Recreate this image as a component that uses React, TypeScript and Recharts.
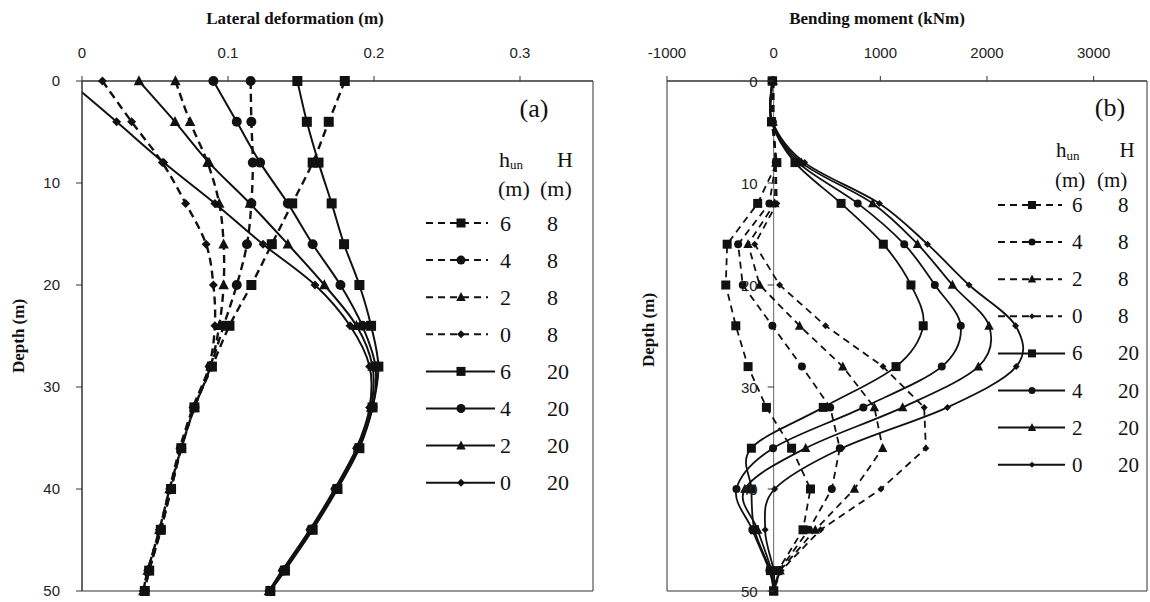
import React from 'react';
import { LineChart, Line, XAxis, YAxis, ReferenceLine, ReferenceArea, Legend } from 'recharts';

// depth of each reading (m), shared by both panels
const DEPTHS = [0, 4, 8, 12, 16, 20, 24, 28, 32, 36, 40, 44, 48, 50];
const DEPTH_TICKS = [0, 10, 20, 30, 40, 50];

// (a) lateral deformation (m)
const DEF_TICKS = [0, 0.1, 0.2, 0.3];
const DEF_6_8 = [0.18, 0.169, 0.158, 0.144, 0.13, 0.116, 0.101, 0.089, 0.077, 0.068, 0.061, 0.054, 0.046, 0.043];
const DEF_4_8 = [0.1155, 0.116, 0.117, 0.116, 0.113, 0.106, 0.097, 0.088, 0.077, 0.068, 0.061, 0.054, 0.046, 0.043];
const DEF_2_8 = [0.064, 0.074, 0.086, 0.094, 0.097, 0.097, 0.094, 0.088, 0.077, 0.068, 0.06, 0.053, 0.045, 0.042];
const DEF_0_8 = [0.014, 0.034, 0.055, 0.071, 0.085, 0.09, 0.091, 0.087, 0.076, 0.067, 0.06, 0.053, 0.045, 0.042];
const DEF_6_20 = [0.1475, 0.154, 0.162, 0.171, 0.1795, 0.19, 0.198, 0.203, 0.199, 0.19, 0.175, 0.158, 0.139, 0.129];
const DEF_4_20 = [0.09, 0.106, 0.122, 0.141, 0.158, 0.177, 0.192, 0.201, 0.199, 0.189, 0.174, 0.157, 0.138, 0.129];
const DEF_2_20 = [0.039, 0.0637, 0.087, 0.115, 0.141, 0.166, 0.188, 0.199, 0.198, 0.189, 0.174, 0.157, 0.138, 0.128];
const DEF_0_20 = [-0.009, 0.0237, 0.056, 0.091, 0.124, 0.1596, 0.1836, 0.197, 0.197, 0.188, 0.173, 0.156, 0.137, 0.128];

// (b) bending moment (kNm)
const BM_TICKS = [-1000, 0, 1000, 2000, 3000];
const BM_6_8 = [-10, -20, 30, -150, -436, -449, -355, -240, -68, 168, 345, 275, 40, 0];
const BM_4_8 = [-5, -10, 20, -40, -333, -290, -12, 265, 530, 620, 545, 330, 50, 0];
const BM_2_8 = [-5, -5, 20, 10, -240, -131, 243, 648, 944, 1022, 757, 390, 60, 0];
const BM_0_8 = [0, 0, 20, 30, -178, 56, 486, 1025, 1411, 1427, 1006, 440, 70, 0];
const BM_6_20 = [-15, -20, 200, 632, 1028, 1287, 1402, 1147, 465, -209, -209, -180, -30, 0];
const BM_4_20 = [-15, -20, 230, 788, 1224, 1511, 1754, 1576, 841, -6, -349, -200, -40, 0];
const BM_2_20 = [-10, -15, 260, 928, 1349, 1676, 2019, 1919, 1209, 300, -270, -150, -20, 0];
const BM_0_20 = [-10, -10, 290, 991, 1442, 1832, 2268, 2274, 1629, 640, 9, -80, 0, 0];

type Shape = 'square' | 'circle' | 'triangle' | 'diamond';

const SERIES: { hun: number; H: number; shape: Shape; dashed: boolean; def: number[]; bm: number[] }[] = [
  { hun: 6, H: 8, shape: 'square', dashed: true, def: DEF_6_8, bm: BM_6_8 },
  { hun: 4, H: 8, shape: 'circle', dashed: true, def: DEF_4_8, bm: BM_4_8 },
  { hun: 2, H: 8, shape: 'triangle', dashed: true, def: DEF_2_8, bm: BM_2_8 },
  { hun: 0, H: 8, shape: 'diamond', dashed: true, def: DEF_0_8, bm: BM_0_8 },
  { hun: 6, H: 20, shape: 'square', dashed: false, def: DEF_6_20, bm: BM_6_20 },
  { hun: 4, H: 20, shape: 'circle', dashed: false, def: DEF_4_20, bm: BM_4_20 },
  { hun: 2, H: 20, shape: 'triangle', dashed: false, def: DEF_2_20, bm: BM_2_20 },
  { hun: 0, H: 20, shape: 'diamond', dashed: false, def: DEF_0_20, bm: BM_0_20 },
];

const INK = '#111';
const AXIS = '#333';
const SANS = 'Liberation Sans, Arial, sans-serif';
const SERIF = 'Liberation Serif, Times New Roman, serif';
const TICK_STYLE = { fontFamily: SANS, fontSize: 15, fill: '#222' };

const toRows = (values: number[]) => DEPTHS.map((d, i) => ({ d, v: values[i] }));

// Excel-style smoothed line: cubic bezier with 1/6 tangents (Catmull-Rom)
const excelSmooth = (context: any) => {
  let pts: number[][] = [];
  return {
    areaStart() {},
    areaEnd() {},
    lineStart() {
      pts = [];
    },
    point(x: number, y: number) {
      pts.push([+x, +y]);
    },
    lineEnd() {
      const n = pts.length;
      if (n === 0) return;
      context.moveTo(pts[0][0], pts[0][1]);
      for (let i = 0; i < n - 1; i++) {
        const p0 = pts[Math.max(i - 1, 0)];
        const p1 = pts[i];
        const p2 = pts[i + 1];
        const p3 = pts[Math.min(i + 2, n - 1)];
        context.bezierCurveTo(
          p1[0] + (p2[0] - p0[0]) / 6,
          p1[1] + (p2[1] - p0[1]) / 6,
          p2[0] - (p3[0] - p1[0]) / 6,
          p2[1] - (p3[1] - p1[1]) / 6,
          p2[0],
          p2[1],
        );
      }
    },
  };
};

function Marker({ shape, cx, cy, size }: { shape: Shape; cx: number; cy: number; size: number }) {
  const r = size / 2;
  if (shape === 'square') return <rect x={cx - r} y={cy - r} width={size} height={size} fill={INK} />;
  if (shape === 'circle') return <circle cx={cx} cy={cy} r={r} fill={INK} />;
  if (shape === 'triangle')
    return <polygon points={`${cx},${cy - r * 1.15} ${cx + r * 1.05},${cy + r * 0.85} ${cx - r * 1.05},${cy + r * 0.85}`} fill={INK} />;
  return <polygon points={`${cx},${cy - r} ${cx + r},${cy} ${cx},${cy + r} ${cx - r},${cy}`} fill={INK} />;
}

const SIZES_A: Record<Shape, number> = { square: 10, circle: 10, triangle: 10, diamond: 9 };
const SIZES_B: Record<Shape, number> = { square: 9, circle: 8, triangle: 9, diamond: 7 };

const makeDot = (shape: Shape, size: number, xMin: number) => (p: any) => {
  const key = `dot-${p.index}`;
  if (p.value == null || p.value < xMin || p.cx == null) return <g key={key} />;
  return <Marker key={key} shape={shape} cx={p.cx} cy={p.cy} size={size} />;
};

interface LegendCfg {
  hunX: number;
  hHeadX: number;
  headY: number;
  unit1X: number;
  unit2X: number;
  unitY: number;
  rowY0: number;
  rowStep: number;
  lineX1: number;
  dashX2: number;
  solidX2: number;
  markX: number;
  numX: number;
  HX: number;
  dash: string;
  fontSize: number;
  sizes: Record<Shape, number>;
}

function LegendTable({ cfg, width }: { cfg: LegendCfg; width: number }) {
  const txt = { fontFamily: SERIF, fontSize: cfg.fontSize, fill: INK };
  return (
    <svg width={width} height={602} style={{ position: 'absolute', left: 0, top: 0, overflow: 'visible' }}>
      <text x={cfg.hunX} y={cfg.headY} dominantBaseline="central" {...txt}>
        h<tspan fontSize={13} dy={5}>un</tspan>
      </text>
      <text x={cfg.hHeadX} y={cfg.headY} textAnchor="middle" dominantBaseline="central" {...txt}>
        H
      </text>
      <text x={cfg.unit1X} y={cfg.unitY} dominantBaseline="central" {...txt}>
        (m)
      </text>
      <text x={cfg.unit2X} y={cfg.unitY} dominantBaseline="central" {...txt}>
        (m)
      </text>
      {SERIES.map((s, i) => {
        const y = cfg.rowY0 + i * cfg.rowStep;
        return (
          <g key={`leg-${i}`}>
            <line
              x1={cfg.lineX1}
              x2={s.dashed ? cfg.dashX2 : cfg.solidX2}
              y1={y}
              y2={y}
              stroke={INK}
              strokeWidth={2}
              strokeDasharray={s.dashed ? cfg.dash : undefined}
            />
            <Marker shape={s.shape} cx={cfg.markX} cy={y} size={cfg.sizes[s.shape] - 1} />
            <text x={cfg.numX} y={y} dominantBaseline="central" {...txt}>
              {s.hun}
            </text>
            <text x={cfg.HX} y={y} dominantBaseline="central" {...txt}>
              {s.H}
            </text>
          </g>
        );
      })}
    </svg>
  );
}

const LEGEND_A: LegendCfg = {
  hunX: 499, hHeadX: 565, headY: 159, unit1X: 498, unit2X: 540, unitY: 188,
  rowY0: 223, rowStep: 37.1, lineX1: 426, dashX2: 488, solidX2: 495, markX: 461,
  numX: 500, HX: 547, dash: '7 5', fontSize: 22, sizes: SIZES_A,
};

const LEGEND_B: LegendCfg = {
  hunX: 456, hHeadX: 527, headY: 150, unit1X: 455, unit2X: 497, unitY: 180,
  rowY0: 205, rowStep: 37.1, lineX1: 398, dashX2: 462, solidX2: 465, markX: 432,
  numX: 472, HX: 518, dash: '7 5', fontSize: 21, sizes: SIZES_B,
};

const titleStyle = { fontFamily: SERIF, fontSize: 17, fontWeight: 700, fill: INK };

function Overlay({ width, children }: { width: number; children: React.ReactNode }) {
  return (
    <svg width={width} height={602} style={{ position: 'absolute', left: 0, top: 0, pointerEvents: 'none' }}>
      {children}
    </svg>
  );
}

// ---------- (a) lateral deformation ----------
const A_W = 600;
const A_MIN = 0;
const A_MAX = 0.35;

function DeformationPanel() {
  return (
    <div style={{ position: 'absolute', left: 0, top: 0, width: A_W, height: 602 }}>
      <LineChart width={A_W} height={602} layout="vertical" margin={{ top: 51, right: 7, bottom: 11, left: 42 }}>
        <ReferenceArea x1={A_MIN} x2={A_MAX} y1={0} y2={50} fill="none" stroke={AXIS} strokeWidth={1} ifOverflow="visible" />
        <XAxis
          type="number"
          orientation="top"
          domain={[A_MIN, A_MAX]}
          allowDataOverflow
          ticks={DEF_TICKS}
          interval={0}
          height={30}
          tickSize={5}
          tickMargin={18}
          tick={TICK_STYLE}
          stroke={AXIS}
          tickFormatter={(v: number) => String(v)}
        />
        <YAxis
          type="number"
          dataKey="d"
          domain={[0, 50]}
          ticks={DEPTH_TICKS}
          interval={0}
          width={40}
          tickSize={6}
          tickMargin={16}
          tick={TICK_STYLE}
          stroke={AXIS}
        />
        {SERIES.map((s, i) => (
          <Line
            key={`a-${i}`}
            data={toRows(s.def)}
            dataKey="v"
            type={excelSmooth as any}
            stroke={INK}
            strokeWidth={s.dashed ? 2.4 : 2}
            strokeDasharray={s.dashed ? '8 5' : undefined}
            dot={makeDot(s.shape, SIZES_A[s.shape], A_MIN)}
            activeDot={false}
            isAnimationActive={false}
          />
        ))}
        <Legend
          layout="horizontal"
          verticalAlign="middle"
          align="center"
          wrapperStyle={{ left: 0, top: 0, width: A_W, height: 602, pointerEvents: 'none' }}
          content={() => <LegendTable cfg={LEGEND_A} width={A_W} />}
        />
      </LineChart>
      <Overlay width={A_W}>
        <text x={295} y={18} textAnchor="middle" dominantBaseline="central" {...titleStyle}>
          Lateral deformation (m)
        </text>
        <text x={18} y={336} transform="rotate(-90 18 336)" textAnchor="middle" dominantBaseline="central" {...titleStyle}>
          Depth (m)
        </text>
        <text x={534} y={108} textAnchor="middle" dominantBaseline="central" fontFamily={SERIF} fontSize={26} fill={INK}>
          (a)
        </text>
      </Overlay>
    </div>
  );
}

// ---------- (b) bending moment ----------
const B_W = 550;
const B_MIN = -1000;
const B_MAX = 3500;
const B_AXIS_W = 1;
const B_LEFT = 66;
const B_RIGHT = 3;
const B_PLOT_X = B_LEFT + B_AXIS_W;
const B_PLOT_W = B_W - B_PLOT_X - B_RIGHT;
const B_ZERO_X = B_PLOT_X + (B_PLOT_W * (0 - B_MIN)) / (B_MAX - B_MIN);

// depth ticks sit on the x = 0 line, not on the frame
function ZeroDepthTick(props: any) {
  const { y, payload } = props;
  return (
    <g>
      <line x1={B_ZERO_X - 6} x2={B_ZERO_X} y1={y} y2={y} stroke={AXIS} strokeWidth={1} />
      <text x={B_ZERO_X - 16} y={y} textAnchor="end" dominantBaseline="central" {...TICK_STYLE}>
        {payload.value}
      </text>
    </g>
  );
}

function MomentPanel() {
  return (
    <div style={{ position: 'absolute', left: 600, top: 0, width: B_W, height: 602 }}>
      <LineChart width={B_W} height={602} layout="vertical" margin={{ top: 51, right: B_RIGHT, bottom: 11, left: B_LEFT }}>
        <ReferenceArea x1={B_MIN} x2={B_MAX} y1={0} y2={50} fill="none" stroke={AXIS} strokeWidth={1} ifOverflow="visible" />
        <ReferenceLine x={0} stroke="#666" strokeWidth={1} />
        <XAxis
          type="number"
          orientation="top"
          domain={[B_MIN, B_MAX]}
          ticks={BM_TICKS}
          interval={0}
          height={30}
          tickSize={5}
          tickMargin={18}
          tick={TICK_STYLE}
          stroke={AXIS}
        />
        <YAxis
          type="number"
          dataKey="d"
          domain={[0, 50]}
          ticks={DEPTH_TICKS}
          interval={0}
          width={B_AXIS_W}
          axisLine={false}
          tickLine={false}
          tick={(p: any) => <ZeroDepthTick {...p} />}
        />
        {SERIES.map((s, i) => (
          <Line
            key={`b-${i}`}
            data={toRows(s.bm)}
            dataKey="v"
            type={s.dashed ? 'linear' : (excelSmooth as any)}
            stroke={INK}
            strokeWidth={1.8}
            strokeDasharray={s.dashed ? '7 5' : undefined}
            dot={makeDot(s.shape, SIZES_B[s.shape], B_MIN)}
            activeDot={false}
            isAnimationActive={false}
          />
        ))}
        <Legend
          layout="horizontal"
          verticalAlign="middle"
          align="center"
          wrapperStyle={{ left: 0, top: 0, width: B_W, height: 602, pointerEvents: 'none' }}
          content={() => <LegendTable cfg={LEGEND_B} width={B_W} />}
        />
      </LineChart>
      <Overlay width={B_W}>
        <text x={277} y={18} textAnchor="middle" dominantBaseline="central" {...titleStyle}>
          Bending moment (kNm)
        </text>
        <text x={48} y={330} transform="rotate(-90 48 330)" textAnchor="middle" dominantBaseline="central" {...titleStyle}>
          Depth (m)
        </text>
        <text x={510} y={107} textAnchor="middle" dominantBaseline="central" fontFamily={SERIF} fontSize={26} fill={INK}>
          (b)
        </text>
      </Overlay>
    </div>
  );
}

export default function App() {
  return (
    <div style={{ position: 'absolute', left: 0, top: 0, width: 1150, height: 602, background: '#fff', overflow: 'hidden' }}>
      <DeformationPanel />
      <MomentPanel />
    </div>
  );
}
